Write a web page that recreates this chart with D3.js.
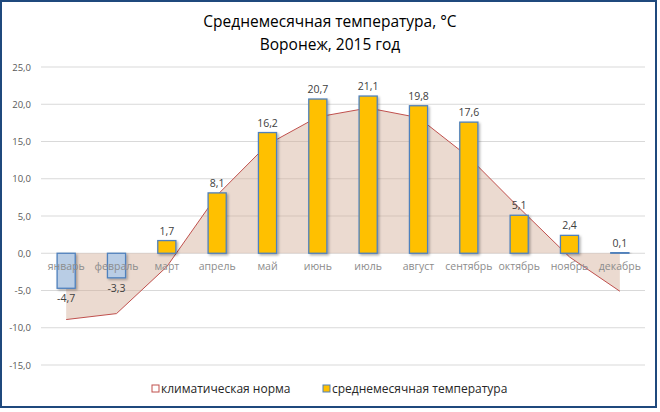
<!DOCTYPE html>
<html>
<head>
<meta charset="utf-8">
<script src="https://cdn.jsdelivr.net/npm/d3@7"></script>
<style>
  body { margin: 0; background: #fff; }
  text { font-family: "Open Sans", "Noto Sans", sans-serif; }
</style>
</head>
<body>
<svg id="chart" width="660" height="412"></svg>
<script>
// data
const months = ["январь", "февраль", "март", "апрель", "май", "июнь", "июль", "август", "сентябрь", "октябрь", "ноябрь", "декабрь"]
const temp2015 = [-4.7, -3.3, 1.7, 8.1, 16.2, 20.7, 21.1, 19.8, 17.6, 5.1, 2.4, 0.1]
const climateNorm = [-8.9, -8.1, -1.8, 7.8, 14.6, 18.3, 19.5, 18.2, 12.9, 6.1, -0.5, -5.1]
const yTicks = [-15, -10, -5, 0, 5, 10, 15, 20, 25]

const svg = d3.select('#chart')
const plotLeft = 41, plotRight = 645, plotTop = 67, plotBottom = 365

const x = d3.scaleBand()
    .domain(months)
    .range([plotLeft, plotRight])
    .paddingInner(0.64)
    .paddingOuter(0.32)

const y = d3.scaleLinear()
    .domain([-15, 25])
    .range([plotBottom, plotTop])

const fmt = v => d3.format(".1f")(v).replace(".", ",").replace("−", "-")
const cx = m => x(m) + x.bandwidth() / 2

// shadow for bars
const defs = svg.append("defs")
const f = defs.append("filter").attr("id", "shadow")
    .attr("x", "-20%").attr("y", "-20%").attr("width", "150%").attr("height", "150%")
f.append("feDropShadow")
    .attr("dx", 1.5).attr("dy", 1.5).attr("stdDeviation", 1)
    .attr("flood-color", "#000").attr("flood-opacity", 0.3)

// outer frame
svg.append("rect")
    .attr("x", 1).attr("y", 1)
    .attr("width", 655).attr("height", 406)
    .attr("fill", "#fff")
    .attr("stroke", "#1f497d")
    .attr("stroke-width", 2)

// title
svg.append("text")
    .attr("x", 330).attr("y", 27)
    .attr("text-anchor", "middle")
    .style("font-size", "15.5px")
    .attr("fill", "#000")
    .text("Среднемесячная  температура, °C")
svg.append("text")
    .attr("x", 330).attr("y", 50)
    .attr("text-anchor", "middle")
    .style("font-size", "15.5px")
    .attr("fill", "#000")
    .text("Воронеж,  2015 год")

// grid + y axis labels
svg.selectAll(".grid")
    .data(yTicks)
    .join("line")
    .attr("class", "grid")
    .attr("x1", plotLeft).attr("x2", plotRight)
    .attr("y1", d => y(d)).attr("y2", d => y(d))
    .attr("stroke", "#d9d9d9")
    .attr("stroke-width", 1)

svg.selectAll(".ylab")
    .data(yTicks)
    .join("text")
    .attr("class", "ylab")
    .attr("x", 31)
    .attr("y", d => y(d) + 3.5)
    .attr("text-anchor", "end")
    .style("font-size", "9.5px")
    .attr("fill", "#595959")
    .text(d => fmt(d))

// climate norm area
const normData = months.map((m, i) => ({ m: m, v: climateNorm[i] }))
const area = d3.area()
    .x(d => cx(d.m))
    .y0(y(0))
    .y1(d => y(d.v))
svg.append("path")
    .datum(normData)
    .attr("d", area)
    .attr("fill", "#d3ad97")
    .attr("fill-opacity", 0.45)

const line = d3.line()
    .x(d => cx(d.m))
    .y(d => y(d.v))
svg.append("path")
    .datum(normData)
    .attr("d", line)
    .attr("fill", "none")
    .attr("stroke", "#c0504d")
    .attr("stroke-width", 1)

// bars
const barData = months.map((m, i) => ({ m: m, v: temp2015[i] }))
svg.selectAll(".bar")
    .data(barData)
    .join("rect")
    .attr("class", "bar")
    .attr("x", d => x(d.m))
    .attr("y", d => y(Math.max(0, d.v)))
    .attr("width", x.bandwidth())
    .attr("height", d => Math.abs(y(d.v) - y(0)))
    .attr("fill", d => d.v < 0 ? "#b9cde5" : "#ffc000")
    .attr("stroke", "#4f81bd")
    .attr("stroke-width", 1.3)
    .attr("filter", "url(#shadow)")

// category labels on the zero line, over the bars
svg.selectAll(".xlab")
    .data(months)
    .join("text")
    .attr("class", "xlab")
    .attr("x", d => cx(d))
    .attr("y", y(0) + 17)
    .attr("text-anchor", "middle")
    .style("font-size", "10.5px")
    .attr("fill", "#8c8c8c")
    .text(d => d)

// value labels
svg.selectAll(".vlab")
    .data(barData)
    .join("text")
    .attr("class", "vlab")
    .attr("x", d => cx(d.m))
    .attr("y", d => d.v < 0 ? y(d.v) + 14 : y(d.v) - 6)
    .attr("text-anchor", "middle")
    .style("font-size", "10.5px")
    .attr("fill", "#404040")
    .text(d => fmt(d.v))

// legend
const legend = [
    { label: "климатическая норма", fill: "#fff", stroke: "#c0504d", x: 152 },
    { label: "среднемесячная температура", fill: "#ffc000", stroke: "#4f81bd", x: 323 }
]
const lg = svg.selectAll(".lg")
    .data(legend)
    .join("g")
    .attr("class", "lg")
    .attr("transform", d => `translate(${d.x}, 389)`)
lg.append("rect")
    .attr("x", 0).attr("y", -4)
    .attr("width", 7).attr("height", 7)
    .attr("fill", d => d.fill)
    .attr("stroke", d => d.stroke)
    .attr("stroke-width", 1)
lg.append("text")
    .attr("x", 9).attr("y", 4)
    .style("font-size", "12px")
    .attr("fill", "#262626")
    .text(d => d.label)
</script>
</body>
</html>
